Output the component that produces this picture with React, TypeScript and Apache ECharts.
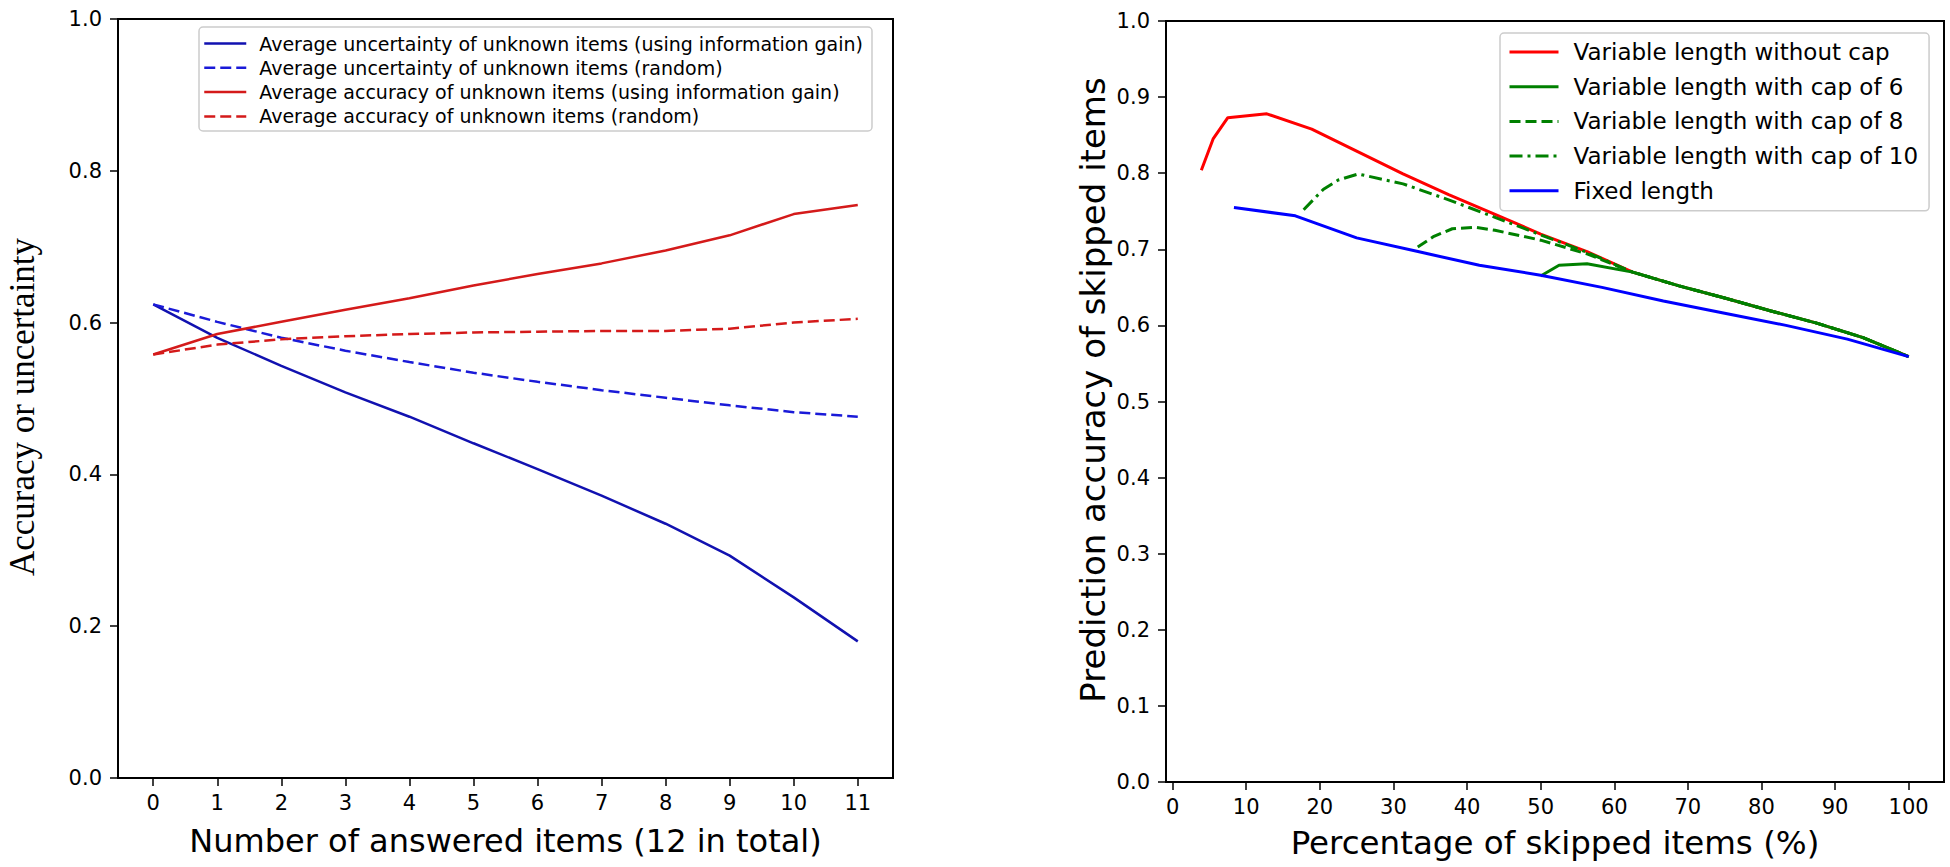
import React, { useEffect, useRef } from "react";
import * as echarts from "echarts";

// ---------- Left panel data ----------
const answeredItems = [0, 1, 2, 3, 4, 5, 6, 7, 8, 9, 10, 11];
const uncertaintyIG = [0.624, 0.580, 0.543, 0.508, 0.476, 0.441, 0.407, 0.372, 0.335, 0.293, 0.238, 0.180];
const uncertaintyRandom = [0.624, 0.601, 0.580, 0.563, 0.548, 0.534, 0.522, 0.511, 0.501, 0.491, 0.482, 0.476];
const accuracyIG = [0.558, 0.585, 0.601, 0.617, 0.632, 0.649, 0.664, 0.678, 0.695, 0.715, 0.743, 0.755];
const accuracyRandom = [0.558, 0.571, 0.578, 0.582, 0.585, 0.587, 0.588, 0.589, 0.589, 0.592, 0.600, 0.605];
const leftXTicks = [0, 1, 2, 3, 4, 5, 6, 7, 8, 9, 10, 11];

// ---------- Right panel data ----------
const noCapX = [3.9, 5.5, 7.5, 12.8, 18.9, 25, 31.3, 37.5, 43.8, 50, 56.3, 62.5, 68.8, 75, 81.3, 87.5, 93.8, 100];
const noCapY = [0.804, 0.845, 0.873, 0.878, 0.858, 0.829, 0.799, 0.772, 0.746, 0.720, 0.697, 0.670, 0.652, 0.636, 0.619, 0.603, 0.584, 0.559];
const cap6X = [50, 52.5, 56.3, 62.5, 68.8, 75, 81.3, 87.5, 93.8, 100];
const cap6Y = [0.665, 0.679, 0.681, 0.670, 0.652, 0.636, 0.619, 0.603, 0.584, 0.559];
const cap8X = [33.3, 35.5, 38, 41, 43.8, 50, 56.3, 62.5, 68.8, 75, 81.3, 87.5, 93.8, 100];
const cap8Y = [0.703, 0.717, 0.727, 0.729, 0.725, 0.712, 0.694, 0.670, 0.652, 0.636, 0.619, 0.603, 0.584, 0.559];
const cap10X = [17.8, 20.5, 22.5, 25.2, 31.3, 37.5, 43.8, 50, 56.3, 62.5, 68.8, 75, 81.3, 87.5, 93.8, 100];
const cap10Y = [0.752, 0.779, 0.791, 0.799, 0.786, 0.765, 0.742, 0.719, 0.696, 0.670, 0.652, 0.636, 0.619, 0.603, 0.584, 0.559];
const fixedX = [8.33, 16.67, 25, 33.33, 41.67, 50, 58.33, 66.67, 75, 83.33, 91.67, 100];
const fixedY = [0.755, 0.744, 0.715, 0.697, 0.679, 0.666, 0.650, 0.632, 0.616, 0.600, 0.582, 0.559];
const rightXTicks = [0, 10, 20, 30, 40, 50, 60, 70, 80, 90, 100];

const leftNames = [
  "Average uncertainty of unknown items (using information gain)",
  "Average uncertainty of unknown items (random)",
  "Average accuracy of unknown items (using information gain)",
  "Average accuracy of unknown items (random)",
];
const rightNames = [
  "Variable length without cap",
  "Variable length with cap of 6",
  "Variable length with cap of 8",
  "Variable length with cap of 10",
  "Fixed length",
];
const leftYTitle = "Accuracy or uncertainty";
const rightYTitle = "Prediction accuracy of skipped items";

const pairs = (xs: number[], ys: number[]) => xs.map((x, i) => [x, ys[i]]);

const SANS = "DejaVu Sans";

export default function App() {
  const ref = useRef<HTMLDivElement>(null);
  useEffect(() => {
    if (!ref.current) return;
    const chart = echarts.init(ref.current, null, { renderer: "svg" });
    const axisCommon = {
      axisLine: { show: true, onZero: false, lineStyle: { color: "#000", width: 2 } },
      axisTick: { show: true, length: 8, lineStyle: { color: "#000", width: 1.5 } },
      splitLine: { show: false },
    };
    const tickFont = { fontSize: 21, color: "#000", fontFamily: SANS };
    const line = (name: string, xi: number, xs: number[], ys: number[], color: string, width: number, type: any = "solid") => ({
      name, type: "line", xAxisIndex: xi, yAxisIndex: xi, symbol: "none", showSymbol: false,
      data: pairs(xs, ys),
      lineStyle: { color, width, type },
      itemStyle: { color },
    });
    const option: any = {
      animation: false,
      backgroundColor: "#fff",
      grid: [
        { left: 118, top: 19, width: 775, height: 759, show: true, borderColor: "#000", borderWidth: 2, backgroundColor: "transparent" },
        { left: 1166, top: 21, width: 778, height: 761, show: true, borderColor: "#000", borderWidth: 2, backgroundColor: "transparent" },
      ],
      xAxis: [
        {
          gridIndex: 0, type: "value", min: -0.55, max: 11.55,
          ...axisCommon,
          axisTick: { ...axisCommon.axisTick, customValues: leftXTicks },
          axisLabel: { ...tickFont, margin: 14, customValues: leftXTicks },
          name: "Number of answered items (12 in total)", nameLocation: "middle", nameGap: 47,
          nameTextStyle: { fontSize: 32, color: "#000", fontFamily: SANS },
        },
        {
          gridIndex: 1, type: "value", min: -0.9, max: 104.8,
          ...axisCommon,
          axisTick: { ...axisCommon.axisTick, customValues: rightXTicks },
          axisLabel: { ...tickFont, margin: 14, customValues: rightXTicks },
          name: "Percentage of skipped items (%)", nameLocation: "middle", nameGap: 44,
          nameTextStyle: { fontSize: 32.5, color: "#000", fontFamily: SANS },
        },
      ],
      yAxis: [
        {
          gridIndex: 0, type: "value", min: 0, max: 1, interval: 0.2,
          ...axisCommon,
          axisLabel: { ...tickFont, margin: 16, formatter: (v: number) => v.toFixed(1) },
        },
        {
          gridIndex: 1, type: "value", min: 0, max: 1, interval: 0.1,
          ...axisCommon,
          axisLabel: { ...tickFont, margin: 16, formatter: (v: number) => v.toFixed(1) },
        },
      ],
      graphic: [
        {
          type: "text", x: 22, y: 407, rotation: Math.PI / 2,
          style: { text: leftYTitle, font: "35px 'Liberation Serif'", fill: "#000", textAlign: "center", textVerticalAlign: "middle" },
        },
        {
          type: "text", x: 1093, y: 390, rotation: Math.PI / 2,
          style: { text: rightYTitle, font: "34px 'DejaVu Sans'", fill: "#000", textAlign: "center", textVerticalAlign: "middle" },
        },
      ],
      legend: [
        {
          data: leftNames, orient: "vertical", left: 199, top: 27,
          itemWidth: 42, itemHeight: 14, itemGap: 5.3,
          padding: [7, 9, 5, 4],
          backgroundColor: "#fff", borderColor: "#cccccc", borderWidth: 1.5, borderRadius: 4,
          itemStyle: { opacity: 0 },
          lineStyle: { width: 2.5 },
          textStyle: { fontSize: 19, lineHeight: 19, color: "#000", fontFamily: SANS, padding: [0, 0, 0, 8] },
        },
        {
          data: rightNames, orient: "vertical", left: 1500, top: 33,
          itemWidth: 49, itemHeight: 14, itemGap: 10.7,
          padding: [7, 11, 8, 8],
          backgroundColor: "#fff", borderColor: "#cccccc", borderWidth: 1.5, borderRadius: 4,
          itemStyle: { opacity: 0 },
          lineStyle: { width: 3 },
          textStyle: { fontSize: 23, lineHeight: 24, color: "#000", fontFamily: SANS, padding: [0, 0, 0, 10] },
        },
      ],
      series: [
        line(leftNames[0], 0, answeredItems, uncertaintyIG, "#1111b0", 2.5),
        line(leftNames[1], 0, answeredItems, uncertaintyRandom, "#1a1ad8", 2.5, [11, 5]),
        line(leftNames[2], 0, answeredItems, accuracyIG, "#d41a1a", 2.5),
        line(leftNames[3], 0, answeredItems, accuracyRandom, "#d41a1a", 2.5, [11, 5]),
        line(rightNames[0], 1, noCapX, noCapY, "#ff0000", 3),
        line(rightNames[1], 1, cap6X, cap6Y, "#008000", 3),
        line(rightNames[2], 1, cap8X, cap8Y, "#008000", 3, [11, 5]),
        line(rightNames[3], 1, cap10X, cap10Y, "#008000", 3, [13, 5, 3, 5]),
        line(rightNames[4], 1, fixedX, fixedY, "#0000ff", 3),
      ],
    };
    chart.setOption(option);
    return () => chart.dispose();
  }, []);
  return (
    <div
      ref={ref}
      style={{ position: "fixed", left: 0, top: 0, width: 1950, height: 867, background: "#fff" }}
    />
  );
}
